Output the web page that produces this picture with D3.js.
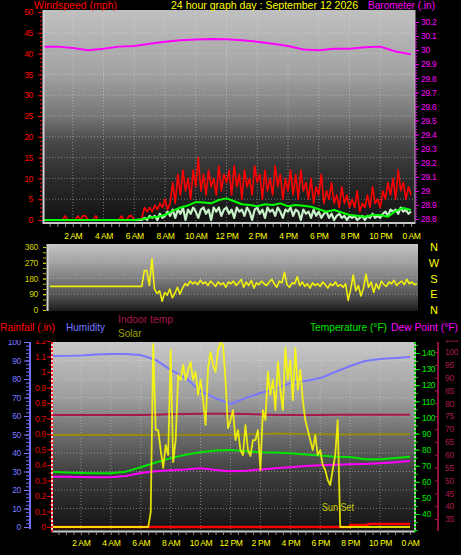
<!DOCTYPE html>
<html><head><meta charset="utf-8">
<script src="https://cdn.jsdelivr.net/npm/d3@7"></script>
<style>
html,body{margin:0;padding:0;background:#000;}
svg{display:block;font-family:"Liberation Sans",Arial,sans-serif;}
</style></head><body>
<svg id="c" width="461" height="555"></svg>
<script>
// ---------------- DATA ----------------
const hourTicks = [2,4,6,8,10,12,14,16,18,20,22,24];
const hourLabels = ["2 AM","4 AM","6 AM","8 AM","10 AM","12 PM","2 PM","4 PM","6 PM","8 PM","10 PM","0 AM"];

// hourly (t = 0..24)
const barometer = [30.025,30.025,30.015,30.00,30.01,30.025,30.03,30.045,30.06,30.07,30.075,30.08,30.077,30.07,30.06,30.045,30.03,30.005,30.00,30.01,30.01,30.02,30.025,29.99,29.97];
const humidity = [92.4,92.5,92.7,93.2,93.5,93.5,93.0,90.3,84.9,80.5,73.5,69.7,66.5,69.7,72.4,74.6,77.8,78.9,80.5,83.8,87.0,89.7,90.8,91.4,91.9];
const temperature = [66.3,65.8,65.5,65.3,65.3,66.3,69.0,72.0,74.7,76.8,78.4,79.5,79.8,79.0,78.4,78.2,77.8,77.0,76.3,75.6,75.4,74.0,74.0,74.8,75.6];
const dewPoint = [63.2,63.1,63.0,62.9,62.8,63.6,65.5,66.6,67.1,67.6,68.4,67.4,66.6,66.8,67.6,68.4,69.0,69.8,70.3,70.6,70.9,71.1,71.5,72.1,72.9];
const indoorTemp = [75.5,75.5,75.5,75.5,75.5,75.5,75.5,75.6,75.8,75.9,76.0,76.0,76.0,75.9,75.7,75.5,75.5,75.5,75.5,75.6,75.6,75.6,75.6,75.6,75.6];
const indoorHumidity = [49.7,49.7,49.8,49.7,49.7,49.8,49.7,49.8,49.8,49.9,49.8,49.8,49.9,50.0,50.3,50.5,50.4,50.1,50.1,50.0,50.0,50.1,50.1,50.1,50.1];

// half-hourly average wind speed (t = 0..24 step 0.5)
const windAvg = [0,0,0,0,0,0,0,0,0,0, 0,0,0,0.2, 0.6,0.8,1.2,2.2,3.0,3.5,4.3,4.2,4.0,4.8,
  5.2,4.5,3.8,3.6,3.3,3.8,3.6,4.0,3.3,3.6, 3.4,3.2,2.6,2.0,2.4,1.8,1.2,1.0,0.8,1.2, 1.2,0.8,2.2,2.9,2.4];

// 10-minute samples (t = 0..24 step 1/6)
const windGust = [0,0,0,0,0,0,0,0,0,1, 0,0,0,0,1,0,1,1,0,0, 0,1,0,0,0,0,0,0,0,0, 0,1,0,0,1,1,0,0,0,0.5,
  3,2,3,2,3.5,2.5,4,3,5,2.5, 4,9,4,11,6,12,7,10,5,12, 8,15,7,11,6,12,8,10,6,13, 7,11,9,12,6,13,8,11,5,12,
  8,10,6,13,9,11,5,12,7,10, 6,13,8,11,5,10,7,12,6,11, 5,12,7,9,5,10,4,8,6,11, 4,7,5,9,4,6,3,8,4,6,
  3,5,3,7,2,4,3,6,3,8, 4,5,3,7,5,9,6,10,5,12, 7,9,5,8,6];
const windSpeed = [0,0,0,0,0,0,0,0,0,0, 0,0,0,0,0,0,0,0,0,0, 0,0,0,0,0,0,0,0,0,0, 0,0,0,0,0,0,0,0,0,0,
  0.5,0,1,0.5,1,0,1.5,0.5,1,2, 1,2.5,0.5,2.5,1.5,3,0,2.5,1.5,3, 2,0.5,2.5,3,1.5,2.5,0,3,2,3, 1,2.5,3,1.5,2.5,0.5,3,2,2.5,1,
  3,2,0,2.5,3,1.5,2.5,0.5,3,2, 2.5,1,3,2,0.5,2.5,2,3,1,2.5, 2,0,2.5,1.5,2,0.5,2.5,1,2,0.5, 1.5,2,0.5,1.5,0,1,1.5,0.5,1,0,
  1,0.5,1,0,0.5,1,0,1,0.5,1.5, 0.5,1,0.5,1.5,2,1,2.5,2,2.5,1.5, 3,2,2.5,1.5,2];
const windDir = [135,135,135,135,135,135,135,135,135,135, 135,135,135,135,135,135,135,135,135,135, 135,135,135,135,135,135,135,135,135,135, 135,135,135,135,135,135,135,
  225,225,140,292,120,95,110,50,100,85,120,70,95,
  130,90,125,150,140,165,150,160,145,170, 150,160,140,165,150,135,160,145,155,130, 160,150,165,140,155,175,130,160,140,170,
  125,155,145,165,150,140,160,175,150,130, 165,155,215,145,130,155,150,190,140,160, 135,150,125,155,140,150,135,160,145,125,
  150,140,160,135,145,130,150,55,120,200, 110,140,80,125,205,130,160,100,150,120, 165,145,135,160,150,170,140,155,165,145,
  175,150,160,145,150];
const solar = [0,0,0,0,0,0,0,0,0,0, 0,0,0,0,0,0,0,0,0,0, 0,0,0,0,0,0,0,0,0,0, 0,0,0,0,0,0,0,0,0,0,
  80,990,524,524,416,319,443,389,957,351, 470,822,795,876,795,849,892,795,838,714, 795,686,551,859,946,876,838,957,995,984,
  795,535,578,632,470,524,416,389,551,416, 384,470,470,524,308,632,578,838,714,795, 632,892,741,632,968,795,903,686,968,741,
  849,686,578,524,470,416,497,389,416,335, 308,254,227,308,389,578,0,0,0,0, 0,0,0,0,0,0,0,0,0,0, 0,0,0,0,0,0,0,0,0,0,
  0,0,0,0,0];
const rainHours = [0,20,21.2,24];
const rainValues = [0,0.013,0.02,0.02];

// ---------------- SETUP ----------------
const svg = d3.select("#c");
const FONT = "Liberation Sans, Arial, sans-serif";
svg.append("rect").attr("width",461).attr("height",555).attr("fill","#000");
const defs = svg.append("defs");
function grad(id, stops){
  const g = defs.append("linearGradient").attr("id",id).attr("x1",0).attr("y1",0).attr("x2",0).attr("y2",1);
  stops.forEach(([o,c])=>g.append("stop").attr("offset",o).attr("stop-color",c));
}
grad("gTop",[[0,"#c0c0c0"],[0.3,"#a2a2a2"],[0.5,"#767676"],[0.62,"#484848"],[0.8,"#2a2a2a"],[1,"#121212"]]);
grad("gMid",[[0,"#c6c6c6"],[0.45,"#8a8a8a"],[0.8,"#4a4a4a"],[1,"#1c1c1c"]]);
grad("gBot",[[0,"#c8c8c8"],[0.3,"#9c9c9c"],[0.5,"#6a6a6a"],[0.7,"#3c3c3c"],[1,"#121212"]]);
function clip(id,x,y,w,h){ defs.append("clipPath").attr("id",id).append("rect").attr("x",x).attr("y",y).attr("width",w).attr("height",h); }
clip("cTop",43,10,372,213); clip("cMid",47,244,371,67); clip("cBot",52,342,363,190); clip("cAxB",0,340,461,215);

const seq = (arr, step) => arr.map((v,i)=>[i*step, v]);
function drawLine(g, data, x, y, color, w, op, curve){
  g.append("path").datum(data).attr("fill","none").attr("stroke",color).attr("stroke-width",w)
   .attr("stroke-opacity",op||1).attr("stroke-linejoin","round")
   .attr("d", d3.line().x(d=>x(d[0])).y(d=>y(d[1])).curve(curve||d3.curveLinear));
}
function styleAxis(g, color, fs){
  g.select(".domain").remove();
  g.attr("font-size",null).attr("font-family",null);
  g.selectAll(".tick line").attr("stroke",color);
  g.selectAll(".tick text").attr("fill",color).attr("font-size",fs||8.5).attr("font-family",FONT).attr("letter-spacing","-0.3");
  return g;
}
function txt(s,x,y,color,fs,len,anchor){
  const t = svg.append("text").attr("x",x).attr("y",y).attr("fill",color).attr("font-size",fs)
    .attr("font-family",FONT).text(s);
  if(len) t.attr("textLength",len).attr("lengthAdjust","spacingAndGlyphs");
  if(anchor) t.attr("text-anchor",anchor);
  return t;
}
function grid(g, xs, ys, x1,x2,y1,y2){
  xs.forEach(x=>g.append("line").attr("x1",x).attr("x2",x).attr("y1",y1).attr("y2",y2));
  ys.forEach(y=>g.append("line").attr("x1",x1).attr("x2",x2).attr("y1",y).attr("y2",y));
  g.attr("stroke","#e0e0e0").attr("stroke-opacity",0.45).attr("stroke-dasharray","1,2").attr("stroke-width",1);
}
const fmt1 = v => String(+v.toFixed(2));

// ---------------- TOP PANEL ----------------
const xTop = d3.scaleLinear().domain([0,24]).range([42,411]);
const yWind = d3.scaleLinear().domain([0,50]).range([220,12]);
const yBaro = d3.scaleLinear().domain([28.8,30.2]).range([219,22]);

svg.append("rect").attr("x",43).attr("y",10).attr("width",372).attr("height",213).attr("fill","url(#gTop)");
grid(svg.append("g"), hourTicks.slice(0,11).map(xTop), d3.range(5,50,5).map(yWind), 43,415,10,223);

const topG = svg.append("g").attr("clip-path","url(#cTop)");
drawLine(topG, seq(barometer,1), xTop, yBaro, "#ff00ff", 2);
drawLine(topG, seq(windGust,1/6), xTop, yWind, "#ff0000", 1.6);
drawLine(topG, seq(windSpeed,1/6), xTop, yWind, "#c8f0c8", 2.2);
drawLine(topG, seq(windAvg,0.5), xTop, yWind, "#00ff00", 2);

svg.append("line").attr("x1",43.5).attr("x2",43.5).attr("y1",10).attr("y2",224).attr("stroke","#d4d4d4").attr("stroke-width",2);
svg.append("line").attr("x1",43).attr("x2",415).attr("y1",223).attr("y2",223).attr("stroke","#c8c8c8").attr("stroke-width",2);
svg.append("line").attr("x1",415).attr("x2",415).attr("y1",10).attr("y2",224).attr("stroke","#bcbcbc").attr("stroke-width",1);

styleAxis(svg.append("g").attr("transform","translate(42,0)")
  .call(d3.axisLeft(yWind).tickValues(d3.range(0,51,1)).tickSize(2).tickFormat("")), "#ff0000");
styleAxis(svg.append("g").attr("transform","translate(42,0)")
  .call(d3.axisLeft(yWind).tickValues(d3.range(0,51,5)).tickSize(4).tickPadding(5)), "#ff0000");
styleAxis(svg.append("g").attr("transform","translate(415,0)")
  .call(d3.axisRight(yBaro).tickValues(d3.range(1440,1511,1).map(v=>v/50)).tickSize(2).tickFormat("")), "#ff00ff");
styleAxis(svg.append("g").attr("transform","translate(415,0)")
  .call(d3.axisRight(yBaro).tickValues(d3.range(288,303,1).map(v=>v/10)).tickSize(4).tickPadding(2).tickFormat(fmt1)), "#ff00ff");
styleAxis(svg.append("g").attr("transform","translate(0,224)")
  .call(d3.axisBottom(xTop).tickValues(d3.range(1,49).map(v=>v/2)).tickSize(3).tickFormat("")), "#8c8c8c");
styleAxis(svg.append("g").attr("transform","translate(0,223)")
  .call(d3.axisBottom(xTop).tickValues(hourTicks).tickSize(0).tickPadding(10).tickFormat((d,i)=>hourLabels[i])), "#ffff00");

txt("Windspeed (mph)",34,8.5,"#ff0000",11,83);
txt("24 hour graph day : September 12 2026",171,9,"#ffff00",10.5,187);
txt("Barometer (.in)",368,9,"#ff00ff",11,67);

// ---------------- MIDDLE PANEL ----------------
const xMid = d3.scaleLinear().domain([0,24]).range([50,417]);
const yDir = d3.scaleLinear().domain([0,360]).range([310,247]);
svg.append("rect").attr("x",47).attr("y",244).attr("width",371).attr("height",67).attr("fill","url(#gMid)");
grid(svg.append("g"), [], [90,180,270].map(yDir), 47,418,244,311);
const midG = svg.append("g").attr("clip-path","url(#cMid)");
drawLine(midG, seq(windDir,1/6), xMid, yDir, "#ffff00", 1.6, 0.9);
svg.append("line").attr("x1",47.5).attr("x2",47.5).attr("y1",244).attr("y2",311).attr("stroke","#d0d0d0").attr("stroke-width",2);
styleAxis(svg.append("g").attr("transform","translate(46,0)")
  .call(d3.axisLeft(yDir).tickValues(d3.range(0,361,30)).tickSize(3).tickFormat("")), "#b8b800");
styleAxis(svg.append("g").attr("transform","translate(46,0)")
  .call(d3.axisLeft(yDir).tickValues([0,90,180,270,360]).tickSize(3).tickPadding(5)), "#d0d000");
const compass = ["E","S","W","N"];
[90,180,270,360,0].forEach(d=>{
  txt(d===0?"N":compass[d/90-1],434,yDir(d)+4,"#ffff00",11,null,"middle");
});

// ---------------- BOTTOM PANEL ----------------
const xBot = d3.scaleLinear().domain([0,24]).range([51,410]);
const yHum = d3.scaleLinear().domain([0,100]).range([527,342]);
const yRain = d3.scaleLinear().domain([0,1.2]).range([527,341]);
const yTemp = d3.scaleLinear().domain([40,140]).range([514,353]);
const yIn = d3.scaleLinear().domain([35,100]).range([519,352]);
const ySolar = d3.scaleLinear().domain([0,1000]).range([527,342]);

svg.append("rect").attr("x",52).attr("y",342).attr("width",363).attr("height",190).attr("fill","url(#gBot)");
grid(svg.append("g"), hourTicks.slice(0,11).map(xBot), d3.range(10,100,10).map(yHum), 52,415,342,531);

const botG = svg.append("g").attr("clip-path","url(#cBot)");
drawLine(botG, seq(indoorHumidity,1), xBot, yHum, "#948c10", 2);
drawLine(botG, seq(indoorTemp,1), xBot, yIn, "#a8184c", 2);
drawLine(botG, seq(humidity,1), xBot, yHum, "#7878ff", 2);
drawLine(botG, seq(dewPoint,1), xBot, yTemp, "#ff00ff", 2);
drawLine(botG, seq(temperature,1), xBot, yTemp, "#00e600", 2);
drawLine(botG, rainHours.map((h,i)=>[h,rainValues[i]]), xBot, yRain, "#ff0000", 2.5, 1, d3.curveStepAfter);
drawLine(botG, seq(solar,1/6), xBot, ySolar, "#ffff00", 1.8, 0.85);

svg.append("line").attr("x1",52).attr("x2",415).attr("y1",531.5).attr("y2",531.5).attr("stroke","#c8c8c8").attr("stroke-width",2);
svg.append("line").attr("x1",52).attr("x2",52).attr("y1",342).attr("y2",532).attr("stroke","#f0d0d0").attr("stroke-width",2);
svg.append("line").attr("x1",52).attr("x2",52).attr("y1",342).attr("y2",532).attr("stroke","#ff2020").attr("stroke-width",2).attr("stroke-dasharray","2,2");
svg.append("line").attr("x1",415).attr("x2",415).attr("y1",342).attr("y2",532).attr("stroke","#c0c0c0").attr("stroke-width",2);
svg.append("line").attr("x1",415).attr("x2",415).attr("y1",342).attr("y2",532).attr("stroke","#00d000").attr("stroke-width",2).attr("stroke-dasharray","2,2");
svg.append("line").attr("x1",30).attr("x2",30).attr("y1",342).attr("y2",529).attr("stroke","#7070ff").attr("stroke-width",2);
svg.append("line").attr("x1",438).attr("x2",438).attr("y1",342).attr("y2",531).attr("stroke","#901040").attr("stroke-width",2);

const axB = svg.append("g").attr("clip-path","url(#cAxB)");
styleAxis(axB.append("g").attr("transform","translate(29,0)")
  .call(d3.axisLeft(yHum).tickValues(d3.range(0,101,2)).tickSize(3).tickFormat("")), "#7070ff");
styleAxis(axB.append("g").attr("transform","translate(29,0)")
  .call(d3.axisLeft(yHum).tickValues(d3.range(0,101,10)).tickSize(5).tickPadding(3)), "#7878ff");
styleAxis(axB.append("g").attr("transform","translate(51,0)")
  .call(d3.axisLeft(yRain).tickValues(d3.range(0,25,1).map(v=>v/20)).tickSize(2).tickFormat("")), "#e00000");
styleAxis(axB.append("g").attr("transform","translate(51,0)")
  .call(d3.axisLeft(yRain).tickValues(d3.range(0,13,1).map(v=>v/10)).tickSize(4).tickPadding(1).tickFormat(fmt1)), "#e00000");
styleAxis(axB.append("g").attr("transform","translate(416,0)")
  .call(d3.axisRight(yTemp).tickValues(d3.range(30,146,5)).tickSize(2).tickFormat("")), "#00d000");
styleAxis(axB.append("g").attr("transform","translate(416,0)")
  .call(d3.axisRight(yTemp).tickValues(d3.range(40,141,10)).tickSize(4).tickPadding(2)), "#00e600");
styleAxis(axB.append("g").attr("transform","translate(438,0)")
  .call(d3.axisRight(yIn).tickValues(d3.range(35,106,5)).tickSizeInner(-3).tickSizeOuter(0).tickPadding(7)), "#a8184c");
styleAxis(svg.append("g").attr("transform","translate(0,532)")
  .call(d3.axisBottom(xBot).tickValues(d3.range(1,49).map(v=>v/2)).tickSize(3).tickFormat("")), "#8c8c8c");
styleAxis(svg.append("g").attr("transform","translate(0,532)")
  .call(d3.axisBottom(xBot).tickValues(hourTicks).tickSize(0).tickPadding(8).tickFormat((d,i)=>hourLabels[i])), "#ffff00");

txt("Rainfall (.in)",0,331,"#ff0000",11,55);
txt("Humidity",66,331,"#7878ff",11,39);
txt("Indoor temp",118,322.5,"#a8184c",10.5,55);
txt("Solar",118,336.5,"#a0a000",10.5,23.5);
txt("Temperature (\u00B0F)",310,331,"#00e600",10,77);
txt("Dew Point (\u00B0F)",391,331,"#ff00ff",10,67);
txt("Sun Set",322,511,"#c8c800",10,32);
</script>
</body></html>
